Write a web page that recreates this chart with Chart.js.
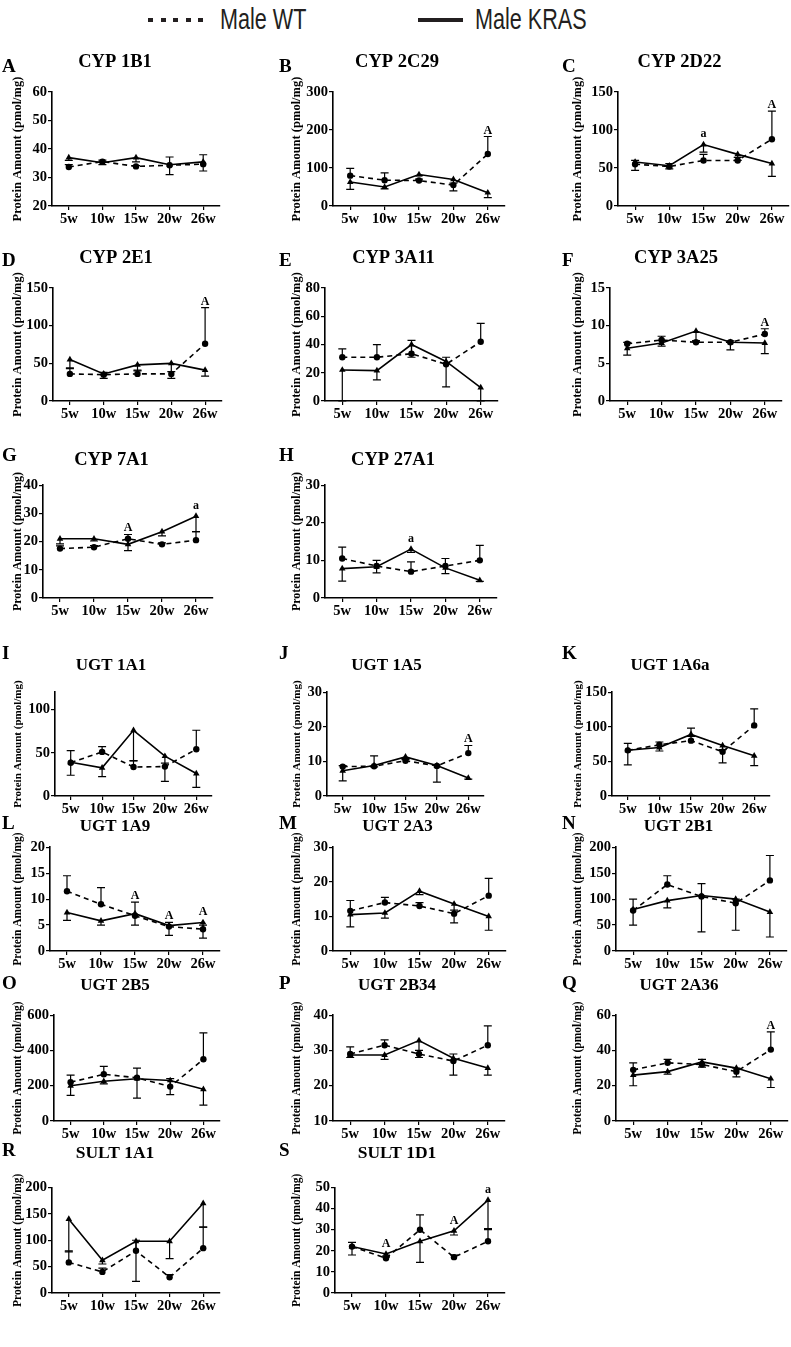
<!DOCTYPE html>
<html>
<head>
<meta charset="utf-8">
<script src="https://cdn.jsdelivr.net/npm/chart.js@4.4.0/dist/chart.umd.min.js"></script>
<style>
    html, body { margin: 0; padding: 0; background: #fff; }
    #page { position: relative; width: 791px; height: 1347px; overflow: hidden; }
    #page canvas { position: absolute; }
    .letter { position: absolute; font: bold 19px 'Liberation Serif', serif; line-height: 19px; color: #000; }
    .ltext { position: absolute; top: 4px; font: 30px 'Liberation Sans', Arial, sans-serif; line-height: 30px;
             color: #231f20; transform: scaleX(0.72); transform-origin: left top; white-space: nowrap; }
    .dots { position: absolute; height: 4px;
            background: repeating-linear-gradient(to right, #231f20 0 5px, transparent 5px 12.5px); }
    .solid { position: absolute; height: 4px; background: #231f20; }
</style>
</head>
<body>
<div id="page">
    <div class="dots" style="left:148px;top:18px;width:56px"></div>
    <div class="ltext" style="left:220px">Male WT</div>
    <div class="solid" style="left:418px;top:18px;width:45px"></div>
    <div class="ltext" style="left:475px">Male KRAS</div>
</div>
<script>
// ---- data ----
const weeks = ['5w', '10w', '15w', '20w', '26w'];
const panelLetters = ['A', 'B', 'C', 'D', 'E', 'F', 'G', 'H', 'I', 'J', 'K', 'L', 'M', 'N', 'O', 'P', 'Q', 'R', 'S'];
const panelTitles = ['CYP 1B1', 'CYP 2C29', 'CYP 2D22', 'CYP 2E1', 'CYP 3A11', 'CYP 3A25', 'CYP 7A1', 'CYP 27A1',
    'UGT 1A1', 'UGT 1A5', 'UGT 1A6a', 'UGT 1A9', 'UGT 2A3', 'UGT 2B1', 'UGT 2B5', 'UGT 2B34', 'UGT 2A36',
    'SULT 1A1', 'SULT 1D1'];
const yMin = [20, 0, 0, 0, 0, 0, 0, 0, 0, 0, 0, 0, 0, 0, 0, 10, 0, 0, 0];
const yMax = [60, 300, 150, 150, 80, 15, 40, 30, 120, 30, 150, 20, 30, 200, 600, 40, 60, 200, 50];
const yStep = [10, 100, 50, 50, 20, 5, 10, 10, 50, 10, 50, 5, 10, 50, 200, 10, 20, 50, 10];

const wtMeans = [
    [33.7, 35.6, 33.9, 34.3, 34.7],
    [80, 68, 67, 55, 137],
    [55, 52, 60, 60, 88],
    [36, 35, 36, 36, 76],
    [31, 31, 33.5, 26, 42],
    [7.6, 8.1, 7.8, 7.8, 8.9],
    [17.5, 18, 21, 19, 20.5],
    [10.5, 8.5, 7, 8.5, 10],
    [38.5, 51, 33.5, 34, 54],
    [8.5, 8.6, 10.2, 8.7, 12.4],
    [66, 74, 80, 64, 102],
    [11.5, 9, 6.8, 4.7, 4.2],
    [11.6, 14, 13, 10.8, 16],
    [78, 128, 105, 92, 136],
    [220, 265, 245, 195, 350],
    [29, 31.5, 29, 27, 31.5],
    [29, 33, 32, 28, 40.5],
    [58, 40, 80, 30, 85],
    [22, 16.5, 30, 17, 24.5]
];
// WT error bars are drawn upward
const wtErr = [
    [0.8, 0.5, 0.3, 2.9, 3.3],
    [19, 19, 4, 5, 46],
    [5, 4, 8, 4, 37],
    [8, 3, 5, 3, 48],
    [6, 9, 9.5, 5, 13],
    [0.2, 0.5, 0.2, 0.2, 0.7],
    [1, 0.6, 1.5, 0.5, 3],
    [3, 1.5, 2.6, 2, 4],
    [14, 6, 7, 4, 22],
    [0.3, 3, 0.3, 0.3, 2.2],
    [10, 4, 18, 3, 24],
    [3, 3.2, 2.6, 0.8, 0.8],
    [3, 1.5, 1, 1, 5],
    [22, 17, 25, 8, 48],
    [40, 45, 55, 45, 150],
    [2, 1.5, 1, 2, 5.5],
    [4, 2, 3, 2, 10],
    [22, 7, 20, 5, 40],
    [2, 1, 7, 1, 6]
];
const krasMeans = [
    [37, 35.2, 37, 34.5, 35.5],
    [63, 50, 83, 70, 35],
    [58, 53, 81, 68, 56],
    [55, 36, 48, 50, 41],
    [22, 21.5, 40, 28, 9.5],
    [7.0, 7.7, 9.3, 7.8, 7.7],
    [21, 21, 19, 23.5, 29],
    [7.8, 8.3, 13, 8, 4.7],
    [39, 32.5, 76, 46, 26],
    [7.3, 8.8, 11.3, 8.8, 5.2],
    [66, 70, 89, 73, 58],
    [7.4, 5.8, 7.2, 4.9, 5.5],
    [10.5, 11, 17.3, 13.6, 10],
    [80, 97, 107, 100, 75],
    [200, 225, 240, 230, 180],
    [28.7, 28.7, 32.8, 27.8, 25],
    [26, 28, 33.5, 30, 24],
    [140, 62, 98, 98, 170],
    [22, 18.5, 24.5, 29.5, 44]
];
// KRAS error bars are drawn downward
const krasErr = [
    [1, 0.7, 1.5, 3.5, 3.2],
    [19, 5, 3, 30, 13],
    [11, 4, 10, 8, 17],
    [12, 6, 8, 20, 8],
    [22, 6.5, 9, 18, 9.5],
    [0.9, 0.4, 1.3, 1.0, 1.4],
    [1.8, 0.8, 2.2, 1.5, 5.5],
    [3.3, 1.6, 0.9, 1.5, 0.3],
    [15, 10, 35, 29, 16],
    [2.9, 0.4, 0.5, 4.8, 0.3],
    [21, 5, 3, 25, 14],
    [1.5, 0.8, 2.2, 1.9, 3],
    [3.5, 1.5, 1, 5.5, 4],
    [30, 14, 70, 60, 48],
    [55, 15, 110, 80, 90],
    [0.7, 1.2, 4.8, 4.8, 2],
    [6, 1.5, 3, 5, 5],
    [62, 7, 76, 33, 45],
    [4, 1.5, 10, 2, 14]
];
const sigMarks = [
    ['', '', '', '', ''],
    ['', '', '', '', 'A'],
    ['', '', 'a', '', 'A'],
    ['', '', '', '', 'A'],
    ['', '', '', '', ''],
    ['', '', '', '', 'A'],
    ['', '', 'A', '', 'a'],
    ['', '', 'a', '', ''],
    ['', '', '', '', ''],
    ['', '', '', '', 'A'],
    ['', '', '', '', ''],
    ['', '', 'A', 'A', 'A'],
    ['', '', '', '', ''],
    ['', '', '', '', ''],
    ['', '', '', '', ''],
    ['', '', '', '', ''],
    ['', '', '', '', 'A'],
    ['', '', '', '', ''],
    ['', 'A', '', 'A', 'a']
];

// ---- layout (pixels) ----
const panelAxisX = [52, 333, 618, 53, 325, 610, 43, 325, 55, 327, 612, 50, 333, 616, 54, 333, 616, 52, 335];
const panelRight = [220, 505, 789, 222, 498, 782, 213, 497, 212, 484, 770, 220, 506, 787, 220, 505, 788, 220, 505];
const panelRow = [0, 0, 0, 1, 1, 1, 2, 2, 3, 3, 3, 4, 4, 4, 5, 5, 5, 6, 6];
const panelCol = [0, 1, 2, 0, 1, 2, 0, 1, 0, 1, 2, 0, 1, 2, 0, 1, 2, 0, 1];
const rowPlotTop = [92, 288, 485, 692, 847, 1015, 1187];
const rowPlotBottom = [206, 401, 598, 796, 951, 1121, 1293];
const rowTitleY = [62, 258, 460, 665, 826, 985, 1153];
const rowLetterY = [66, 260, 455, 653, 823, 983, 1150];
const rowTitleSize = [18.5, 18.5, 18.5, 17, 17, 17, 17.5];
const rowAxisTitleSize = [12.5, 12.5, 12, 11, 11.5, 11.5, 11.5];
const colAxisTitleX = [18, 297, 578];
const colLetterX = [2, 279, 562];

const SERIF = "'Liberation Serif', 'Times New Roman', serif";
const X_AXIS_H = 24;

const errorBars = {
    id: 'errorBars',
    beforeDatasetsDraw(chart, args, opts) {
        const { ctx, scales: { x, y } } = chart;
        ctx.save();
        ctx.strokeStyle = '#000';
        ctx.lineWidth = 1.2;
        chart.data.datasets.forEach((ds, d) => {
            const errs = opts.errors[d];
            const dir = opts.directions[d];
            ds.data.forEach((v, i) => {
                if (!errs[i]) return;
                const px = x.getPixelForValue(i);
                const y0 = y.getPixelForValue(v);
                const y1 = y.getPixelForValue(v + dir * errs[i]);
                ctx.beginPath();
                ctx.moveTo(px, y0);
                ctx.lineTo(px, y1);
                ctx.moveTo(px - 4, y1);
                ctx.lineTo(px + 4, y1);
                ctx.stroke();
            });
        });
        ctx.restore();
    }
};

const sigLabels = {
    id: 'sigLabels',
    afterDatasetsDraw(chart, args, opts) {
        const { ctx, scales: { x, y } } = chart;
        const wt = chart.data.datasets[0].data;
        const kras = chart.data.datasets[1].data;
        ctx.save();
        ctx.fillStyle = '#000';
        ctx.font = 'bold 12px ' + SERIF;
        ctx.textAlign = 'center';
        ctx.textBaseline = 'alphabetic';
        opts.marks.forEach((m, i) => {
            if (!m) return;
            const top = Math.min(y.getPixelForValue(wt[i] + opts.wtErr[i]), y.getPixelForValue(kras[i]) - 4);
            ctx.fillText(m, x.getPixelForValue(i), top - 3);
        });
        ctx.restore();
    }
};

const page = document.getElementById('page');

panelTitles.forEach((title, p) => {
    const row = panelRow[p], col = panelCol[p];
    const axisX = panelAxisX[p];
    const plotW = panelRight[p] - axisX;
    const yAxisW = axisX - colAxisTitleX[col] + 8;
    const ts = rowTitleSize[row];
    const titleLine = ts * 1.2;
    const axisTitleSize = rowAxisTitleSize[row];
    const canvasTop = rowTitleY[row] - titleLine / 2;
    const canvasH = rowPlotBottom[row] + X_AXIS_H + 2 - canvasTop;
    const canvasW = yAxisW * 2 + plotW;

    const canvas = document.createElement('canvas');
    canvas.width = canvasW;
    canvas.height = canvasH;
    canvas.style.left = (axisX - yAxisW) + 'px';
    canvas.style.top = canvasTop + 'px';
    canvas.style.width = canvasW + 'px';
    canvas.style.height = canvasH + 'px';
    page.appendChild(canvas);

    const letter = document.createElement('div');
    letter.className = 'letter';
    letter.textContent = panelLetters[p];
    letter.style.left = colLetterX[col] + 'px';
    letter.style.top = (rowLetterY[row] - 10) + 'px';
    page.appendChild(letter);

    const tickFont = { family: SERIF, size: 14.5, weight: 'bold' };

    new Chart(canvas, {
        type: 'line',
        data: {
            labels: weeks,
            datasets: [
                {
                    label: 'Male WT',
                    data: wtMeans[p],
                    borderColor: '#000',
                    backgroundColor: '#000',
                    borderWidth: 1.6,
                    borderDash: [5, 4],
                    pointStyle: 'circle',
                    pointRadius: 3.2,
                    pointBorderWidth: 0,
                    tension: 0
                },
                {
                    label: 'Male KRAS',
                    data: krasMeans[p],
                    borderColor: '#000',
                    backgroundColor: '#000',
                    borderWidth: 1.6,
                    pointStyle: 'triangle',
                    pointRadius: 3.8,
                    pointBorderWidth: 0,
                    tension: 0
                }
            ]
        },
        options: {
            responsive: false,
            animation: false,
            devicePixelRatio: 1,
            layout: { padding: { left: 0, right: yAxisW, top: 0, bottom: 2 } },
            plugins: {
                legend: { display: false },
                tooltip: { enabled: false },
                title: {
                    display: true,
                    text: title,
                    color: '#000',
                    font: { family: SERIF, size: ts, weight: 'bold', lineHeight: 1.2 },
                    padding: { top: 0, bottom: rowPlotTop[row] - rowTitleY[row] - titleLine / 2 }
                },
                errorBars: { errors: [wtErr[p], krasErr[p]], directions: [1, -1] },
                sigLabels: { marks: sigMarks[p], wtErr: wtErr[p] }
            },
            scales: {
                x: {
                    type: 'category',
                    offset: true,
                    grid: { display: true, drawOnChartArea: false, drawTicks: true, tickLength: 4, color: '#000', lineWidth: 1.2, offset: false },
                    border: { display: true, color: '#000', width: 1.6 },
                    ticks: { color: '#000', font: tickFont, padding: 1, maxRotation: 0, autoSkip: false },
                    afterFit(scale) { scale.height = X_AXIS_H; }
                },
                y: {
                    min: yMin[p],
                    max: yMax[p],
                    grid: { display: true, drawOnChartArea: false, drawTicks: true, tickLength: 4, color: '#000', lineWidth: 1.2 },
                    border: { display: true, color: '#000', width: 1.6 },
                    ticks: { stepSize: yStep[p], includeBounds: false, color: '#000', font: tickFont, padding: 1 },
                    title: {
                        display: true,
                        text: 'Protein Amount (pmol/mg)',
                        color: '#000',
                        font: { family: SERIF, size: axisTitleSize, weight: 'bold', lineHeight: 1.2 },
                        padding: { top: Math.max(0, 8 - axisTitleSize * 0.6), bottom: 0 }
                    },
                    afterFit(scale) { scale.width = yAxisW; }
                }
            }
        },
        plugins: [errorBars, sigLabels]
    });
});
</script>
</body>
</html>
